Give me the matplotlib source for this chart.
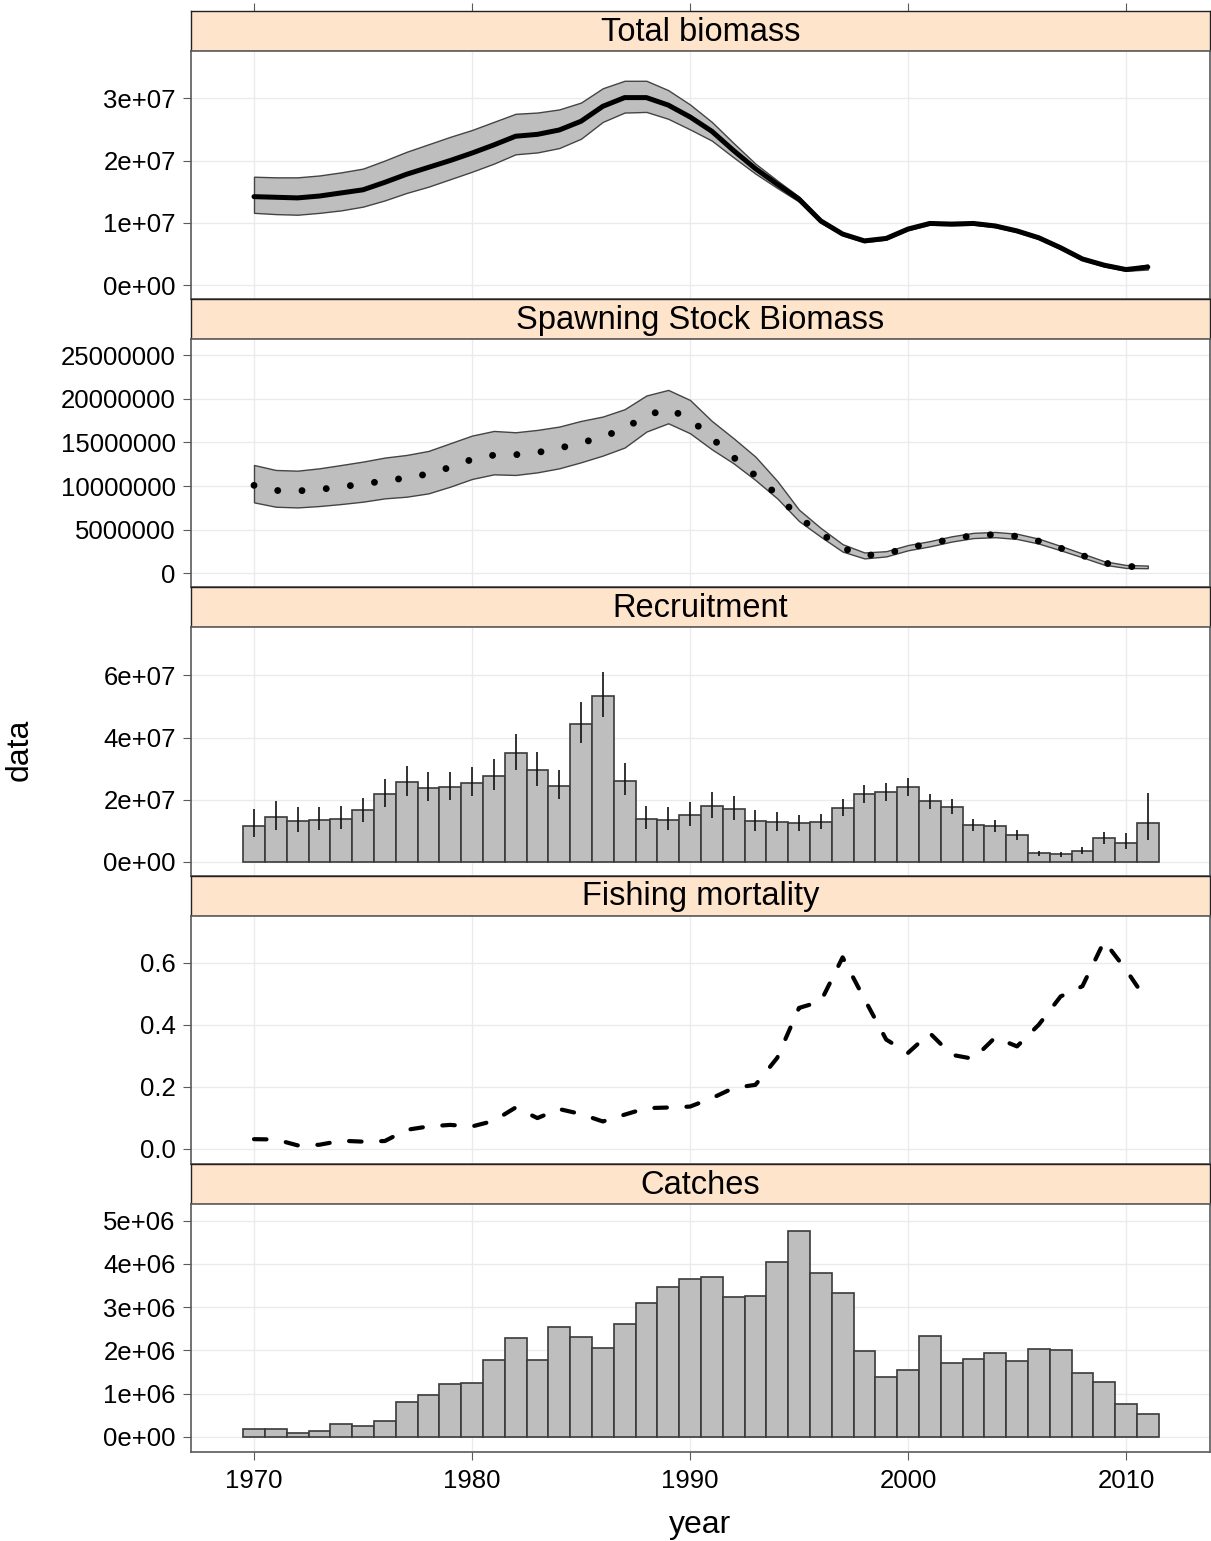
import numpy as np
import matplotlib
matplotlib.use("Agg")
import matplotlib.pyplot as plt

plt.rcParams['font.family'] = ['Liberation Sans', 'DejaVu Sans']

years = list(range(1970, 2012))

# Total biomass (x 1e7): median and bounds
tb_med = [1.42, 1.41, 1.40, 1.43, 1.48, 1.53, 1.65, 1.78, 1.89, 2.00,
          2.12, 2.25, 2.39, 2.42, 2.49, 2.63, 2.87, 3.01, 3.01, 2.89,
          2.70, 2.47, 2.16, 1.87, 1.62, 1.38, 1.03, 0.82, 0.71, 0.75,
          0.90, 0.99, 0.98, 0.99, 0.95, 0.87, 0.76, 0.60, 0.42, 0.32,
          0.25, 0.29]
tb_hi = [1.74, 1.73, 1.73, 1.76, 1.81, 1.87, 2.00, 2.14, 2.26, 2.38,
         2.49, 2.62, 2.75, 2.77, 2.82, 2.93, 3.16, 3.28, 3.28, 3.13,
         2.90, 2.62, 2.28, 1.95, 1.68, 1.42, 1.06, 0.84, 0.73, 0.77,
         0.92, 1.01, 1.00, 1.01, 0.97, 0.89, 0.78, 0.62, 0.44, 0.34,
         0.27, 0.33]
tb_lo = [1.16, 1.14, 1.13, 1.16, 1.20, 1.26, 1.36, 1.48, 1.58, 1.70,
         1.82, 1.95, 2.10, 2.13, 2.20, 2.35, 2.62, 2.77, 2.78, 2.67,
         2.50, 2.32, 2.05, 1.79, 1.56, 1.34, 1.00, 0.80, 0.69, 0.73,
         0.88, 0.97, 0.96, 0.97, 0.93, 0.85, 0.74, 0.58, 0.40, 0.30,
         0.23, 0.25]

# Spawning stock biomass (x 1e6)
ssb_med = [10.09, 9.50, 9.45, 9.62, 9.92, 10.25, 10.60, 10.95, 11.40, 12.16,
           13.07, 13.55, 13.60, 13.85, 14.35, 14.95, 15.65, 16.60, 18.10, 18.85,
           17.70, 15.50, 13.30, 11.20, 9.00, 6.40, 4.60, 2.90, 2.05, 2.25,
           2.95, 3.40, 3.95, 4.35, 4.45, 4.25, 3.70, 2.90, 2.06, 1.20,
           0.80, 0.75]
ssb_hi = [12.42, 11.85, 11.77, 12.04, 12.42, 12.81, 13.27, 13.57, 14.03, 14.91,
          15.79, 16.32, 16.17, 16.44, 16.82, 17.47, 17.97, 18.81, 20.38, 21.02,
          19.87, 17.47, 15.48, 13.38, 10.60, 7.30, 5.20, 3.35, 2.40, 2.55,
          3.25, 3.70, 4.25, 4.65, 4.75, 4.55, 3.98, 3.15, 2.28, 1.40,
          0.97, 0.90]
ssb_lo = [8.14, 7.64, 7.56, 7.72, 7.95, 8.22, 8.60, 8.79, 9.17, 9.94,
          10.82, 11.35, 11.28, 11.58, 12.04, 12.73, 13.50, 14.42, 16.25, 17.20,
          16.06, 14.22, 12.61, 10.70, 8.60, 6.00, 4.20, 2.50, 1.72, 1.95,
          2.65, 3.10, 3.65, 4.05, 4.15, 3.95, 3.42, 2.65, 1.84, 1.00,
          0.63, 0.60]

# Recruitment (x 1e7)
rec = [1.15, 1.43, 1.31, 1.34, 1.39, 1.65, 2.17, 2.56, 2.38, 2.39,
       2.54, 2.76, 3.49, 2.95, 2.43, 4.44, 5.33, 2.61, 1.38, 1.34,
       1.51, 1.80, 1.71, 1.31, 1.29, 1.23, 1.29, 1.74, 2.17, 2.26,
       2.39, 1.94, 1.76, 1.18, 1.15, 0.87, 0.28, 0.25, 0.35, 0.75,
       0.61, 1.26]
rec_hi = [1.69, 1.97, 1.77, 1.76, 1.80, 2.06, 2.67, 3.09, 2.89, 2.90,
          3.05, 3.31, 4.13, 3.53, 2.96, 5.14, 6.11, 3.18, 1.80, 1.75,
          1.91, 2.24, 2.13, 1.67, 1.61, 1.51, 1.54, 2.01, 2.47, 2.55,
          2.69, 2.18, 2.01, 1.38, 1.34, 1.02, 0.35, 0.31, 0.46, 0.95,
          0.91, 2.20]
rec_lo = [0.78, 1.02, 0.97, 1.02, 1.06, 1.28, 1.75, 2.12, 1.97, 1.99,
          2.10, 2.31, 2.96, 2.45, 2.01, 3.82, 4.65, 2.15, 1.04, 1.02,
          1.16, 1.42, 1.34, 1.00, 1.00, 1.00, 1.05, 1.47, 1.88, 1.96,
          2.10, 1.69, 1.55, 1.00, 0.97, 0.70, 0.19, 0.16, 0.25, 0.57,
          0.40, 0.70]

# Fishing mortality
fbar = [0.031, 0.030, 0.011, 0.013, 0.026, 0.023, 0.025, 0.061, 0.072, 0.077,
        0.072, 0.090, 0.133, 0.099, 0.128, 0.112, 0.088, 0.110, 0.131, 0.133,
        0.136, 0.163, 0.196, 0.206, 0.293, 0.454, 0.475, 0.617, 0.483, 0.352,
        0.309, 0.373, 0.303, 0.290, 0.359, 0.330, 0.400, 0.491, 0.524, 0.669,
        0.577, 0.473]

# Catches (x 1e6)
catch = [0.177, 0.192, 0.092, 0.130, 0.307, 0.253, 0.361, 0.814, 0.960, 1.220,
         1.237, 1.767, 2.280, 1.767, 2.530, 2.310, 2.050, 2.620, 3.100, 3.460,
         3.660, 3.700, 3.240, 3.250, 4.050, 4.760, 3.790, 3.330, 1.990, 1.390,
         1.550, 2.340, 1.700, 1.790, 1.935, 1.760, 2.035, 2.010, 1.475, 1.260,
         0.753, 0.523]

titles = ['Total biomass', 'Spawning Stock Biomass', 'Recruitment',
          'Fishing mortality', 'Catches']
xticks = [1970, 1980, 1990, 2000, 2010]
yticks = [[0, 1e7, 2e7, 3e7],
          [0, 5e6, 10e6, 15e6, 20e6, 25e6],
          [0, 2e7, 4e7, 6e7],
          [0.0, 0.2, 0.4, 0.6],
          [0, 1e6, 2e6, 3e6, 4e6, 5e6]]
ylabels = [['0e+00', '1e+07', '2e+07', '3e+07'],
           ['0', '5000000', '10000000', '15000000', '20000000', '25000000'],
           ['0e+00', '2e+07', '4e+07', '6e+07'],
           ['0.0', '0.2', '0.4', '0.6'],
           ['0e+00', '1e+06', '2e+06', '3e+06', '4e+06', '5e+06']]
ylims = [(-0.226e7, 3.758e7), (-1.6e6, 26.83e6), (-0.45e7, 7.55e7),
         (-0.0484, 0.7516), (-0.35e6, 5.39e6)]

W, H = 1211, 1541
fig = plt.figure(figsize=(W / 100, H / 100), dpi=100)

left = 191 / W
width = (1209.5 - 191) / W
top0, block, strip_h = 11, 288.2, 40
xlim = (1967.11, 2013.83)
border = '#5a5a5a'
grid_c = '#ebebeb'
fill_c = '#bebebe'

axes = []
for i in range(5):
    top = top0 + i * block
    sax = fig.add_axes([left, 1 - (top + strip_h) / H, width, strip_h / H])
    sax.set_facecolor('#ffe4cc')
    sax.set_xlim(xlim)
    sax.set_ylim(0, 1)
    sax.set_yticks([])
    sax.text(0.5, 0.47, titles[i], transform=sax.transAxes, ha='center',
             va='center', fontsize=23.5)
    for s in sax.spines.values():
        s.set_color('#222222')
        s.set_linewidth(1.0)
    if i == 0:
        sax.xaxis.tick_top()
        sax.set_xticks(xticks)
        sax.tick_params(axis='x', direction='out', length=6, color=border,
                        labeltop=False)
    else:
        sax.set_xticks([])

    ax = fig.add_axes([left, 1 - (top + block) / H, width, (block - strip_h) / H])
    ax.set_xlim(xlim)
    ax.set_ylim(ylims[i])
    ax.set_xticks(xticks)
    ax.set_yticks(yticks[i])
    ax.set_yticklabels(ylabels[i])
    ax.grid(True, color=grid_c, linewidth=1.0)
    ax.set_axisbelow(True)
    ax.tick_params(axis='y', direction='out', length=6, color=border,
                   labelsize=18.5, pad=5)
    if i == 4:
        ax.tick_params(axis='x', direction='out', length=6, color=border,
                       labelsize=18.5, pad=6)
    else:
        ax.tick_params(axis='x', length=0, labelbottom=False)
    for s in ax.spines.values():
        s.set_color(border)
        s.set_linewidth(1.2)
    axes.append(ax)

yr = np.array(years)

# Total biomass
ax = axes[0]
ax.fill_between(yr, np.array(tb_lo) * 1e7, np.array(tb_hi) * 1e7,
                facecolor=fill_c, edgecolor='#444444', linewidth=1.0)
ax.plot(yr, np.array(tb_med) * 1e7, color='black', linewidth=3.6,
        solid_joinstyle='round', solid_capstyle='round')

# SSB
ax = axes[1]
ax.fill_between(yr, np.array(ssb_lo) * 1e6, np.array(ssb_hi) * 1e6,
                facecolor=fill_c, edgecolor='#444444', linewidth=1.0)
ax.plot(yr, np.array(ssb_med) * 1e6, color='black', linewidth=5.0,
        linestyle=(0, (0.001, 3.5)), dash_capstyle='round')

# Recruitment
ax = axes[2]
ax.bar(yr, np.array(rec) * 1e7, width=1.0, color=fill_c, edgecolor='#3a3a3a',
       linewidth=1.2)
ax.vlines(yr, np.array(rec_lo) * 1e7, np.array(rec_hi) * 1e7, color='#111111',
          linewidth=1.2)

# Fishing mortality
ax = axes[3]
ax.plot(yr, fbar, color='black', linewidth=3.0, linestyle=(0, (3.0, 4.7)),
        dash_capstyle='round')

# Catches
ax = axes[4]
ax.bar(yr, np.array(catch) * 1e6, width=1.0, color=fill_c, edgecolor='#3a3a3a',
       linewidth=1.2)

fig.text(20 / W, 1 - 750 / H, 'data', rotation=90, ha='center', va='center',
         fontsize=23)
fig.text(700 / W, 1 - 1525 / H, 'year', ha='center', va='center', fontsize=23)

fig.savefig('out.png', dpi=100)
